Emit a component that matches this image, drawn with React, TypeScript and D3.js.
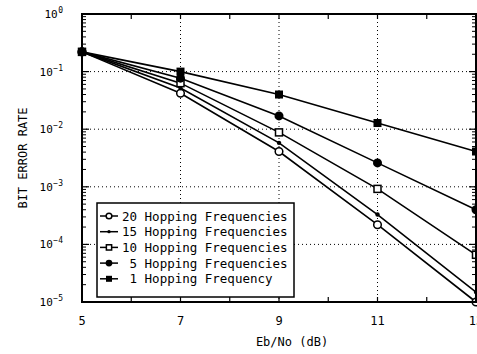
import React from "react";
import * as d3 from "d3";

const xValues = [5, 7, 9, 11, 13];
const s20 = [0.22, 0.042, 0.0041, 0.00022, 0.00001];
const s15 = [0.22, 0.052, 0.0058, 0.00033, 0.0000149];
const s10 = [0.22, 0.063, 0.0088, 0.00092, 0.000066];
const s5 = [0.22, 0.077, 0.017, 0.0026, 0.0004];
const s1 = [0.22, 0.1, 0.04, 0.0128, 0.0041];
const seriesNames = [
  "20 Hopping Frequencies",
  "15 Hopping Frequencies",
  "10 Hopping Frequencies",
  " 5 Hopping Frequencies",
  " 1 Hopping Frequency",
];
const seriesMarkers = ["openCircle", "dot", "openSquare", "filledCircle", "filledSquare"];
const xTickLabels = ["5", "7", "9", "11", "13"];
const yExponents = [0, -1, -2, -3, -4, -5];

const W = 477;
const H = 354;
const L = 82, R = 476, T = 14, B = 302;
const FONT = "'DejaVu Sans Mono', monospace";

function Marker({ type, x, y, scale = 1 }: { type: string; x: number; y: number; scale?: number }) {
  switch (type) {
    case "openCircle":
      return <circle cx={x} cy={y} r={3.8 * scale} fill="#fff" stroke="#000" strokeWidth={1.5} />;
    case "dot":
      return <circle cx={x} cy={y} r={2.2 * scale} fill="#000" />;
    case "openSquare": {
      const s = 7 * scale;
      return <rect x={x - s / 2} y={y - s / 2} width={s} height={s} fill="#fff" stroke="#000" strokeWidth={1.5} />;
    }
    case "filledCircle":
      return <circle cx={x} cy={y} r={4.5 * scale} fill="#000" />;
    case "filledSquare": {
      const s = 8 * scale;
      return <rect x={x - s / 2} y={y - s / 2} width={s} height={s} fill="#000" />;
    }
  }
  return null;
}

export default function App() {
  const x = d3.scaleLinear().domain([5, 13]).range([L, R]);
  const y = d3.scaleLog().domain([1, 1e-5]).range([T, B]);
  const allSeries = [s20, s15, s10, s5, s1];
  const line = d3
    .line<number>()
    .x((_, i) => x(xValues[i]))
    .y((d) => y(d));

  const minorY: number[] = [];
  for (let e = -5; e < 0; e++) {
    for (let m = 2; m <= 9; m++) minorY.push(m * Math.pow(10, e));
  }
  const gridY = [1e-1, 1e-2, 1e-3, 1e-4];
  const gridX = [7, 9, 11];
  const intX = d3.range(6, 13);

  return (
    <svg width={W} height={H} style={{ position: "absolute", left: 0, top: 0, background: "#fff" }}>
      <rect x={0} y={0} width={W} height={H} fill="#fff" />
      {/* grid */}
      {gridY.map((v) => (
        <line key={"gy" + v} x1={L} x2={R} y1={y(v)} y2={y(v)} stroke="#000" strokeWidth={1} strokeDasharray="1,3" />
      ))}
      {gridX.map((v) => (
        <line key={"gx" + v} x1={x(v)} x2={x(v)} y1={T} y2={B} stroke="#000" strokeWidth={1} strokeDasharray="1,3" />
      ))}
      {/* minor ticks */}
      {minorY.map((v, i) => (
        <g key={"my" + i}>
          <line x1={L} x2={L + 4} y1={y(v)} y2={y(v)} stroke="#000" strokeWidth={1} />
          <line x1={R} x2={R - 4} y1={y(v)} y2={y(v)} stroke="#000" strokeWidth={1} />
        </g>
      ))}
      {yExponents.map((e) => (
        <g key={"My" + e}>
          <line x1={L} x2={L + 7} y1={y(Math.pow(10, e))} y2={y(Math.pow(10, e))} stroke="#000" strokeWidth={1.2} />
          <line x1={R} x2={R - 7} y1={y(Math.pow(10, e))} y2={y(Math.pow(10, e))} stroke="#000" strokeWidth={1.2} />
        </g>
      ))}
      {intX.map((v) => (
        <g key={"tx" + v}>
          <line x1={x(v)} x2={x(v)} y1={B} y2={B - 5} stroke="#000" strokeWidth={1.2} />
          <line x1={x(v)} x2={x(v)} y1={T} y2={T + 5} stroke="#000" strokeWidth={1.2} />
        </g>
      ))}
      {/* series */}
      {allSeries.map((s, si) => (
        <g key={"s" + si}>
          <path d={line(s) || ""} fill="none" stroke="#000" strokeWidth={1.6} />
          {s.map((v, i) => (
            <Marker key={i} type={seriesMarkers[si]} x={x(xValues[i])} y={y(v)} />
          ))}
        </g>
      ))}
      {/* frame */}
      <rect x={L} y={T} width={R - L} height={B - T} fill="none" stroke="#000" strokeWidth={2} />
      {/* y tick labels */}
      {yExponents.map((e) => (
        <text key={"yl" + e} x={63} y={y(Math.pow(10, e)) + 4} fontFamily={FONT} fontSize={11} textAnchor="end" fill="#000">
          10
          <tspan dx={0.5} dy={-5} fontSize={8}>{String(e).replace("-", "\u2212")}</tspan>
        </text>
      ))}
      {/* x tick labels */}
      {xValues.map((v, i) => (
        <text key={"xl" + v} x={x(v)} y={325} fontFamily={FONT} fontSize={12} textAnchor="middle" fill="#000">
          {xTickLabels[i]}
        </text>
      ))}
      <text x={292} y={346} fontFamily={FONT} fontSize={12} textAnchor="middle" fill="#000">
        Eb/No (dB)
      </text>
      <text
        transform={`translate(27,158) rotate(-90)`}
        fontFamily={FONT}
        fontSize={12}
        textAnchor="middle"
        fill="#000"
      >
        BIT ERROR RATE
      </text>
      {/* legend */}
      <rect x={97} y={203} width={197} height={94} fill="#fff" stroke="#000" strokeWidth={1.5} />
      {seriesNames.map((name, i) => {
        const ly = 216 + i * 15.7;
        return (
          <g key={"lg" + i}>
            <line x1={100} x2={118} y1={ly} y2={ly} stroke="#000" strokeWidth={1.5} />
            <Marker type={seriesMarkers[i]} x={109} y={ly} scale={0.75} />
            <text x={122} y={ly + 4.5} fontFamily={FONT} fontSize={12.5} fill="#000" style={{ whiteSpace: "pre" }}>
              {name}
            </text>
          </g>
        );
      })}
    </svg>
  );
}
